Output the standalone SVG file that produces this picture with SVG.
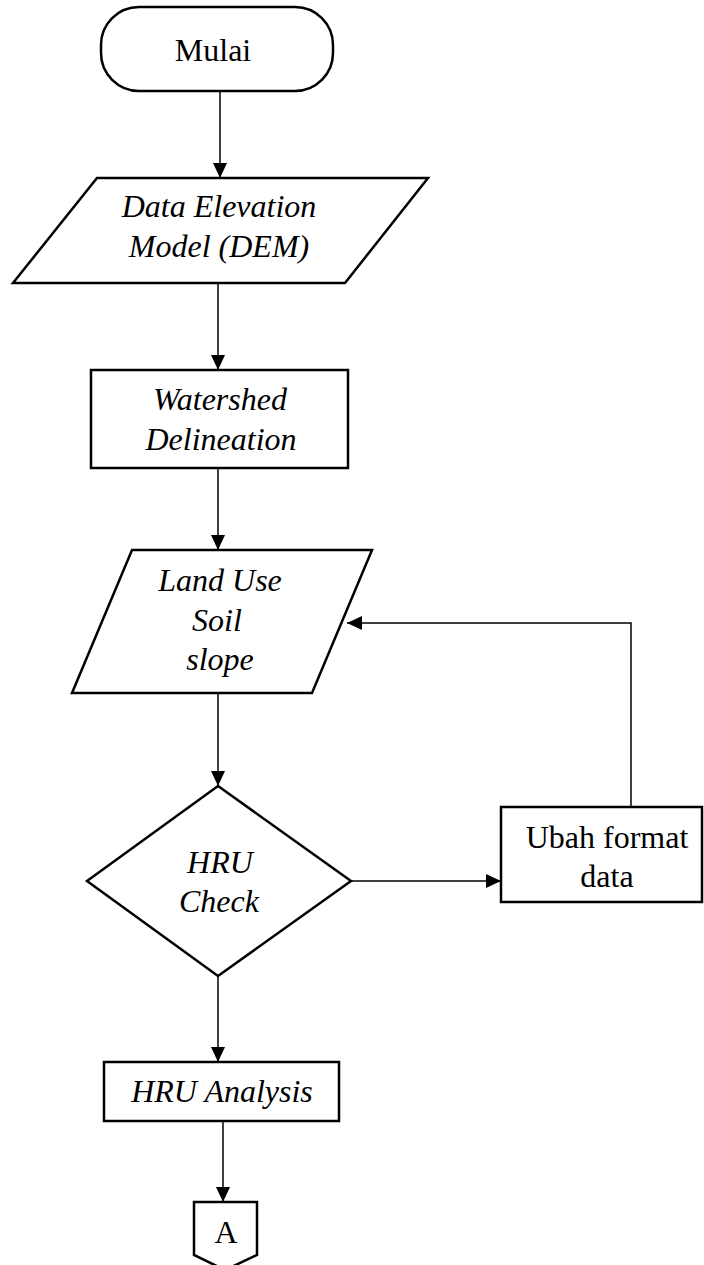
<svg xmlns="http://www.w3.org/2000/svg" width="704" height="1265" viewBox="0 0 704 1265">
<style>
.shape{fill:#fff;stroke:#000;stroke-width:2.5;stroke-linejoin:miter}
.conn{fill:none;stroke:#000;stroke-width:1.5}
.t{font-family:"Liberation Serif","Times New Roman",serif;font-size:32px;fill:#000;text-anchor:middle}
.i{font-style:italic}
</style>
<defs>
<marker id="ah" markerUnits="userSpaceOnUse" markerWidth="16" markerHeight="14" refX="15" refY="7" orient="auto">
<path d="M0,0 L15,7 L0,14 Z" fill="#000"/>
</marker>
</defs>
<g id="connectors">
<line class="conn" x1="220" y1="91" x2="220" y2="178" marker-end="url(#ah)"/>
<line class="conn" x1="218" y1="283" x2="218" y2="370" marker-end="url(#ah)"/>
<line class="conn" x1="218" y1="468" x2="218" y2="550" marker-end="url(#ah)"/>
<line class="conn" x1="218" y1="693" x2="218" y2="786" marker-end="url(#ah)"/>
<line class="conn" x1="351" y1="881" x2="501" y2="881" marker-end="url(#ah)"/>
<polyline class="conn" points="631,807 631,623 347,623" marker-end="url(#ah)"/>
<line class="conn" x1="218" y1="976" x2="218" y2="1062" marker-end="url(#ah)"/>
<line class="conn" x1="223" y1="1121" x2="223" y2="1202" marker-end="url(#ah)"/>
</g>
<g id="mulai">
<rect class="shape" x="101" y="7" width="232" height="84" rx="38" ry="38"/>
<text class="t" x="213" y="61">Mulai</text>
</g>
<g id="dem">
<polygon class="shape" points="97,178 428,178 345,283 13,283"/>
<text class="t i" x="219" y="217">Data Elevation</text>
<text class="t i" x="219" y="257">Model (DEM)</text>
</g>
<g id="watershed">
<rect class="shape" x="91" y="370" width="257" height="98"/>
<text class="t i" x="220" y="410">Watershed</text>
<text class="t i" x="221" y="450">Delineation</text>
</g>
<g id="landuse">
<polygon class="shape" points="132,550 372,550 312,693 72,693"/>
<text class="t i" x="220" y="591">Land Use</text>
<text class="t i" x="217" y="631">Soil</text>
<text class="t i" x="220" y="670">slope</text>
</g>
<g id="hrucheck">
<polygon class="shape" points="218,786 351,881 218,976 87,881"/>
<text class="t i" x="220" y="873">HRU</text>
<text class="t i" x="219" y="912">Check</text>
</g>
<g id="ubah">
<rect class="shape" x="501" y="807" width="201" height="95"/>
<text class="t" x="607" y="848">Ubah format</text>
<text class="t" x="607" y="887">data</text>
</g>
<g id="hruanalysis">
<rect class="shape" x="104" y="1062" width="235" height="59"/>
<text class="t i" x="222" y="1102">HRU Analysis</text>
</g>
<g id="connectorA">
<polygon class="shape" points="194,1202 257,1202 257,1255 225,1270 194,1255"/>
<text class="t" x="226" y="1243">A</text>
</g>
</svg>
